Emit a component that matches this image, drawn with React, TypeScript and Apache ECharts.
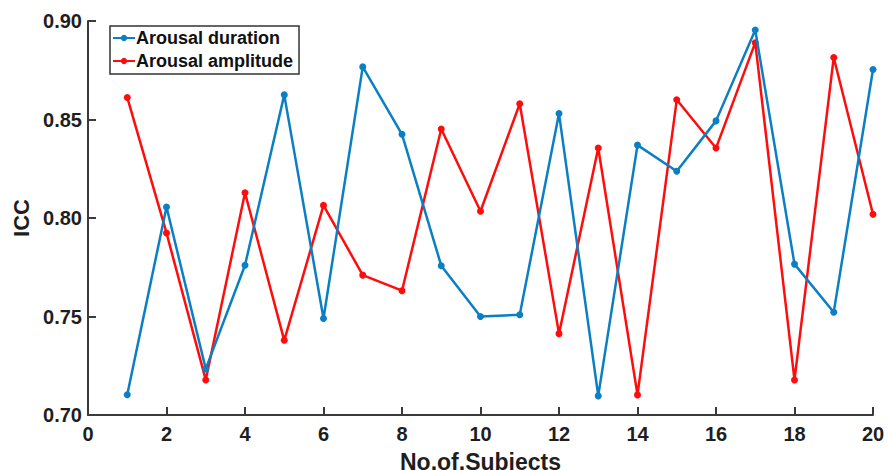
import React, { useEffect, useRef } from "react";
import * as echarts from "echarts";

const subjects = [1, 2, 3, 4, 5, 6, 7, 8, 9, 10, 11, 12, 13, 14, 15, 16, 17, 18, 19, 20];
const arousalDuration = [0.7103, 0.8056, 0.7234, 0.776, 0.8625, 0.749, 0.8767, 0.8425, 0.7758, 0.750, 0.7509, 0.853, 0.7097, 0.837, 0.8237, 0.8493, 0.8954, 0.7766, 0.7522, 0.8754];
const arousalAmplitude = [0.8612, 0.7924, 0.7178, 0.8128, 0.7379, 0.8064, 0.771, 0.7631, 0.8452, 0.8034, 0.858, 0.7413, 0.8355, 0.7102, 0.860, 0.8355, 0.889, 0.7178, 0.8815, 0.8019];
const seriesNames = ["Arousal duration", "Arousal amplitude"];
const xAxisTitle = "No.of.Subjects";
const yAxisTitle = "ICC";

const FONT = 'Arial, "Liberation Sans", Helvetica, sans-serif';

export default function App() {
  const ref = useRef<HTMLDivElement>(null);
  useEffect(() => {
    if (!ref.current) return;
    const chart = echarts.init(ref.current, null, { renderer: "svg" });
    const axisColor = "#3a3a3a";
    const labelStyle = { color: "#1e1e1e", fontSize: 20, fontWeight: "bold" as const, fontFamily: FONT };
    chart.setOption({
      animation: false,
      backgroundColor: "#ffffff",
      grid: { left: 88, right: 16, top: 21, bottom: 55, containLabel: false, outerBoundsMode: "none" },
      legend: {
        left: 110,
        top: 26,
        orient: "vertical",
        itemWidth: 22,
        itemHeight: 8,
        itemGap: 5,
        padding: [3, 6, 4, 2],
        borderColor: "#333",
        borderWidth: 1.5,
        backgroundColor: "#fff",
        textStyle: { color: "#111", fontSize: 18, fontWeight: "bold", fontFamily: FONT, padding: [0, 0, 0, -4] },
        data: seriesNames,
      },
      xAxis: {
        type: "value",
        min: 0,
        max: 20,
        interval: 2,
        name: xAxisTitle,
        nameLocation: "middle",
        nameGap: 35,
        nameTextStyle: { color: "#1e1e1e", fontSize: 23, fontWeight: "bold", fontFamily: FONT },
        axisLine: { show: true, lineStyle: { color: axisColor, width: 2 } },
        axisTick: { show: true, inside: true, length: 8, lineStyle: { color: axisColor, width: 2 } },
        axisLabel: { ...labelStyle, margin: 9 },
        splitLine: { show: false },
      },
      yAxis: {
        type: "value",
        min: 0.7,
        max: 0.9,
        interval: 0.05,
        name: yAxisTitle,
        nameLocation: "middle",
        nameGap: 49,
        nameTextStyle: { color: "#1e1e1e", fontSize: 22, fontWeight: "bold", fontFamily: FONT },
        axisLine: { show: true, lineStyle: { color: axisColor, width: 2 } },
        axisTick: { show: true, inside: true, length: 8, lineStyle: { color: axisColor, width: 2 } },
        axisLabel: { ...labelStyle, margin: 6, formatter: (v: number) => v.toFixed(2) },
        splitLine: { show: false },
      },
      series: [
        {
          name: seriesNames[0],
          type: "line",
          data: subjects.map((s, i) => [s, arousalDuration[i]]),
          symbol: "circle",
          symbolSize: 7,
          itemStyle: { color: "#0a7fc4" },
          lineStyle: { color: "#0a7fc4", width: 2.5 },
          z: 3,
        },
        {
          name: seriesNames[1],
          type: "line",
          data: subjects.map((s, i) => [s, arousalAmplitude[i]]),
          symbol: "circle",
          symbolSize: 7,
          itemStyle: { color: "#ff0d0d" },
          lineStyle: { color: "#ff0d0d", width: 2.5 },
          z: 2,
        },
      ],
    });
    return () => chart.dispose();
  }, []);
  return <div ref={ref} style={{ width: 889, height: 470, position: "absolute", left: 0, top: 0 }} />;
}
